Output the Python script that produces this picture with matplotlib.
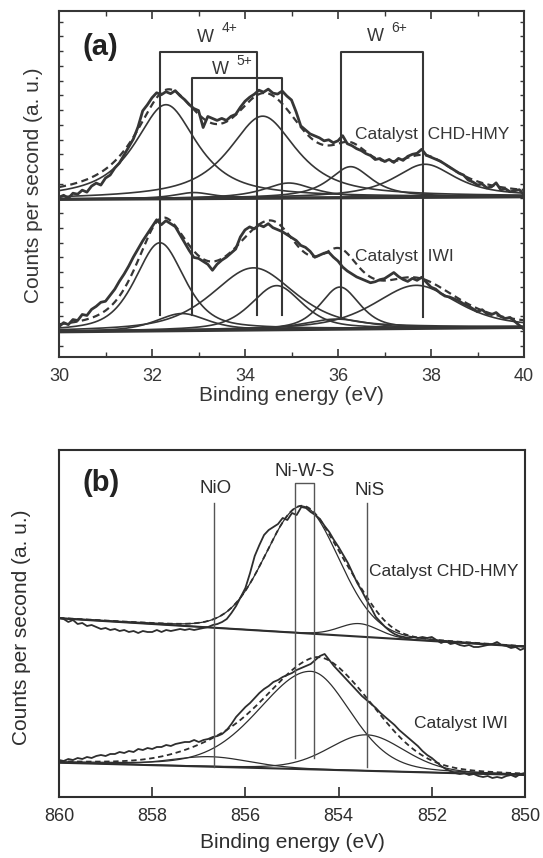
import numpy as np
import matplotlib
matplotlib.use("Agg")
import matplotlib.pyplot as plt
from matplotlib.ticker import MultipleLocator

plt.rcParams['font.family'] = ['Liberation Sans', 'DejaVu Sans']

# ---------------- panel (a): W 4f ----------------
# energy grid of the measured traces (eV), 0.1 eV step
w_e_start, w_e_step = 30.0, 0.1

# measured counts above background, catalyst CHD-HMY
w_chd = [2, 4, 1, 6, 5, 9, 7, 13, 16, 14,
         21, 24, 31, 36, 44, 52, 60, 72, 88, 94,
         101, 106, 104, 107, 105, 108, 103, 99, 94, 90,
         88, 71, 82, 80, 78, 80, 78, 82, 84, 91,
         97, 101, 104, 108, 106, 109, 105, 104, 107, 102,
         98, 86, 72, 68, 64, 62, 60, 57, 58, 55,
         57, 62, 54, 52, 49, 47, 44, 42, 38, 39,
         36, 38, 35, 39, 37, 41, 43, 44, 48, 42,
         40, 38, 36, 33, 30, 27, 24, 22, 17, 15,
         12, 13, 9, 10, 14, 7, 8, 5, 6, 7, 2]

# measured counts above background, catalyst IWI
w_iwi = [5, 9, 7, 12, 11, 17, 16, 22, 25, 29,
         30, 36, 42, 50, 57, 65, 74, 82, 90, 97,
         104, 111, 106, 110, 107, 104, 96, 88, 80, 73,
         72, 69, 66, 60, 66, 70, 73, 77, 81, 93,
         100, 103, 101, 105, 103, 106, 102, 100, 98, 95,
         92, 89, 84, 82, 78, 72, 74, 76, 77, 72,
         68, 62, 58, 55, 52, 50, 48, 46, 47, 49,
         50, 53, 56, 52, 49, 47, 50, 48, 51, 46,
         41, 39, 35, 32, 31, 29, 27, 24, 22, 19,
         16, 18, 14, 13, 15, 11, 9, 10, 6, 2, -2]

# linear backgrounds (left end, right end)
w_chd_bg = (157.7, 160.3)
w_iwi_bg = (25.3, 29.7)

# fitted components: centre (eV), height, FWHM (eV)
w_chd_centers = [32.30, 32.90, 34.38, 34.94, 36.27, 37.87]
w_chd_heights = [94, 6, 82, 15, 31, 33]
w_chd_fwhm = [1.6, 1.0, 1.75, 1.3, 1.1, 1.6]
w_chd_eta = 0.85

w_iwi_centers = [32.17, 32.64, 34.18, 34.68, 36.04, 35.95, 37.68]
w_iwi_heights = [88, 17, 62, 44, 42, 10, 43]
w_iwi_fwhm = [1.25, 1.3, 2.1, 1.3, 1.0, 1.6, 2.1]
w_iwi_eta = 0.55

# oxidation state markers (doublet positions)
w_states = ['4+', '5+', '6+']
w_marker_lo = [32.17, 32.85, 36.07]
w_marker_hi = [34.25, 34.80, 37.83]

# ---------------- panel (b): Ni 2p ----------------
ni_e_start, ni_e_step = 860.0, -0.1

ni_chd = [179, 178, 175, 177, 173, 174, 171, 172, 170, 168,
          169, 167, 168, 166, 167, 165, 166, 164, 166, 165,
          165, 167, 165, 167, 166, 167, 168, 167, 168, 167,
          168, 169, 170, 172, 173, 175, 178, 184, 191, 200,
          209, 224, 241, 252, 262, 267, 270, 273, 279, 277,
          284, 282, 290, 289, 285, 282, 278, 271, 265, 257,
          250, 242, 234, 224, 214, 206, 197, 189, 180, 175,
          170, 166, 163, 161, 160, 159, 160, 159, 160, 159,
          160, 157, 154, 156, 153, 154, 152, 151, 152, 150,
          150, 151, 152, 153, 155, 152, 151, 149, 150, 147, 149]

ni_iwi = [37, 36, 38, 37, 39, 38, 40, 39, 41, 42,
          41, 43, 43, 45, 44, 46, 45, 48, 47, 49,
          48, 50, 50, 52, 51, 53, 54, 55, 55, 57,
          55, 57, 58, 60, 61, 63, 67, 73, 80, 85,
          90, 94, 99, 104, 108, 111, 115, 117, 120, 122,
          124, 127, 129, 131, 133, 137, 141, 143, 137, 131,
          126, 121, 116, 111, 106, 101, 97, 93, 89, 84,
          80, 76, 72, 67, 63, 59, 55, 51, 46, 42,
          39, 35, 31, 28, 26, 24, 23, 24, 22, 23,
          21, 20, 21, 19, 20, 19, 21, 22, 20, 23, 24]

ni_chd_bg = (178.7, 150.3)
ni_iwi_bg = (34.3, 22.0)

# Ni components: centre, height, FWHM on high- and low-energy side
ni_chd_centers = [854.78, 853.56]
ni_chd_heights = [127, 13]
ni_chd_fwhm_hi = [1.85, 1.0]
ni_chd_fwhm_lo = [1.85, 1.0]
ni_chd_eta = 0.1

ni_iwi_centers = [854.6, 853.4, 856.75]
ni_iwi_heights = [98, 36, 10]
ni_iwi_fwhm_hi = [2.6, 1.9, 2.0]
ni_iwi_fwhm_lo = [2.0, 1.9, 2.0]
ni_iwi_eta = 0.2

ni_markers = {'NiO': [856.67], 'Ni-W-S': [854.93, 854.53], 'NiS': [853.40]}


def pseudo_voigt(x, c, h, w_hi, w_lo, eta):
    w = np.where(x > c, w_hi, w_lo)
    u = (x - c) / w
    g = np.exp(-4 * np.log(2) * u ** 2)
    l = 1 / (1 + 4 * u ** 2)
    return h * (eta * l + (1 - eta) * g)


def background(x, bg, x0, x1):
    return bg[0] + (bg[1] - bg[0]) * (x - x0) / (x1 - x0)


ink = '#363636'
fig = plt.figure(figsize=(5.43, 8.58), dpi=100)

# ---------- (a) ----------
ax = fig.add_axes([59 / 543, 1 - 357 / 858, 465 / 543, 346 / 858])
e_meas = w_e_start + w_e_step * np.arange(len(w_chd))
e_fine = np.linspace(30, 40, 600)

for trace, bg, cs, hs, ws, eta in [
        (w_chd, w_chd_bg, w_chd_centers, w_chd_heights, w_chd_fwhm, w_chd_eta),
        (w_iwi, w_iwi_bg, w_iwi_centers, w_iwi_heights, w_iwi_fwhm, w_iwi_eta)]:
    base_fine = background(e_fine, bg, 30, 40)
    total = base_fine.copy()
    for c, h, w in zip(cs, hs, ws):
        comp = pseudo_voigt(e_fine, c, h, w, w, eta)
        total += comp
        ax.plot(e_fine, base_fine + comp, color=ink, lw=1.2)
    ax.plot(e_fine, base_fine, color=ink, lw=2.4)
    ax.plot(e_fine, total, color=ink, lw=1.6, dashes=(3.2, 2.0))
    ax.plot(e_meas, background(e_meas, bg, 30, 40) + np.array(trace),
            color=ink, lw=2.0)

# oxidation state brackets
bracket_top = [305.3, 278.7, 304.7]
bracket_bot = [42, 42, 40.3]
w_label_xy = [(33.14, 319.7), (33.47, 287.0), (36.80, 320.3)]
for lo, hi, top, bot, st, (lx, ly) in zip(w_marker_lo, w_marker_hi, bracket_top,
                                          bracket_bot, w_states, w_label_xy):
    ax.plot([lo, lo, hi, hi], [bot, top, top, bot], color=ink, lw=1.5)
    ax.text(lx, ly, 'W', fontsize=13, color=ink, ha='center', va='center')
    ax.text(lx + 0.52, ly + 9, st, fontsize=10, color=ink, ha='center', va='center')

ax.text(30.9, 310, '(a)', fontsize=21, fontweight='bold', color='#222222',
        ha='center', va='center')
ax.text(36.37, 222, 'Catalyst  CHD-HMY', fontsize=12.5, color=ink, va='center')
ax.text(36.37, 100, 'Catalyst  IWI', fontsize=12.5, color=ink, va='center')

ax.set_xlim(30, 40)
ax.set_ylim(0, 346)
ax.xaxis.set_major_locator(MultipleLocator(2))
ax.xaxis.set_minor_locator(MultipleLocator(1))
ax.set_yticks(np.arange(11.2, 346, 14.73))
ax.tick_params(axis='x', which='both', direction='in', top=True, labelsize=13,
               colors=ink, pad=8)
ax.tick_params(axis='x', which='major', length=6, width=1.2)
ax.tick_params(axis='x', which='minor', length=3.5, width=1.0)
ax.tick_params(axis='y', direction='in', left=True, right=True, labelleft=False,
               length=3, width=1.0, colors=ink)
ax.set_xlabel('Binding energy (eV)', fontsize=15, color=ink)
ax.xaxis.set_label_coords(0.5, -0.085)
ax.set_ylabel('Counts per second (a. u.)', fontsize=15, color=ink)
ax.yaxis.set_label_coords(-0.035, 0.495)
for s in ax.spines.values():
    s.set_linewidth(1.5)
    s.set_color(ink)

# ---------- (b) ----------
bx = fig.add_axes([59 / 543, 1 - 797 / 858, 466 / 543, 347 / 858])
n_meas = ni_e_start + ni_e_step * np.arange(len(ni_chd))
n_fine = np.linspace(860, 850, 600)
ink_b = '#2e2e2e'

for trace, bg, cs, hs, whi, wlo, eta in [
        (ni_chd, ni_chd_bg, ni_chd_centers, ni_chd_heights,
         ni_chd_fwhm_hi, ni_chd_fwhm_lo, ni_chd_eta),
        (ni_iwi, ni_iwi_bg, ni_iwi_centers, ni_iwi_heights,
         ni_iwi_fwhm_hi, ni_iwi_fwhm_lo, ni_iwi_eta)]:
    base_fine = background(n_fine, bg, 860, 850)
    total = base_fine.copy()
    for c, h, w1, w2 in zip(cs, hs, whi, wlo):
        comp = pseudo_voigt(n_fine, c, h, w1, w2, eta)
        total += comp
        bx.plot(n_fine, base_fine + comp, color=ink_b, lw=0.9)
    bx.plot(n_fine, base_fine, color=ink_b, lw=1.5)
    bx.plot(n_fine, total, color=ink_b, lw=1.3, dashes=(3.0, 2.0))
    bx.plot(n_meas, trace, color=ink_b, lw=1.3)

# species markers
marker_span = {'NiO': (30.3, 293.7), 'Ni-W-S': (38.7, 313.7), 'NiS': (30.3, 293.7)}
label_xy = {'NiO': (856.63, 308.7), 'Ni-W-S': (854.73, 325.3), 'NiS': (853.34, 307)}
for name, pos in ni_markers.items():
    bot, top = marker_span[name]
    if len(pos) == 2:
        bx.plot([pos[0], pos[0], pos[1], pos[1]], [bot, top, top, bot],
                color='#555555', lw=1.0)
    else:
        bx.plot([pos[0], pos[0]], [bot, top], color='#555555', lw=1.0)
    lx, ly = label_xy[name]
    bx.text(lx, ly, name, fontsize=13.5, color=ink_b, ha='center', va='center')

bx.text(859.1, 313.7, '(b)', fontsize=21, fontweight='bold', color='#222222',
        ha='center', va='center')
bx.text(853.34, 225.3, 'Catalyst CHD-HMY', fontsize=12.5, color=ink_b, va='center')
bx.text(852.38, 73.7, 'Catalyst IWI', fontsize=12.5, color=ink_b, va='center')

bx.set_xlim(860, 850)
bx.set_ylim(0, 347)
bx.xaxis.set_major_locator(MultipleLocator(2))
bx.set_yticks([])
bx.tick_params(axis='x', direction='in', length=7, width=1.2, labelsize=13,
               colors=ink_b, pad=8)
bx.set_xlabel('Binding energy (eV)', fontsize=15, color=ink_b)
bx.xaxis.set_label_coords(0.5, -0.105)
bx.set_ylabel('Counts per second (a. u.)', fontsize=15, color=ink_b)
bx.yaxis.set_label_coords(-0.06, 0.49)
for s in bx.spines.values():
    s.set_linewidth(1.5)
    s.set_color(ink_b)

fig.savefig('out.png', dpi=100)
